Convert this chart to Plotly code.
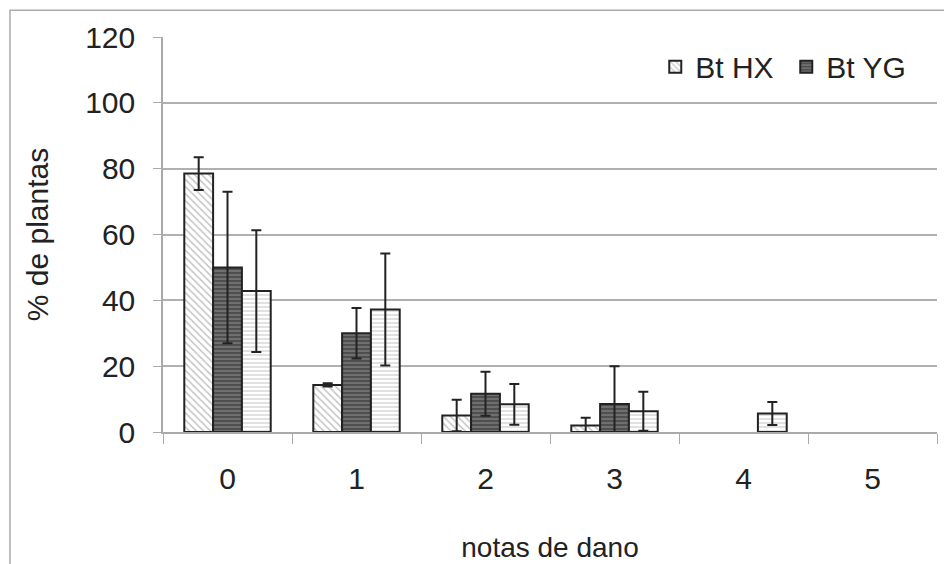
import plotly.graph_objects as go

categories = ["0", "1", "2", "3", "4", "5"]
hx_values = [78.5, 14.3, 5.0, 2.0, 0.0, 0.0]
hx_err = [5.0, 0.5, 4.8, 2.3, 0.0, 0.0]
yg_values = [50.0, 30.0, 11.6, 8.5, 0.0, 0.0]
yg_err = [23.0, 7.7, 6.7, 11.5, 0.0, 0.0]
vip_values = [42.8, 37.2, 8.4, 6.3, 5.6, 0.0]
vip_err = [18.5, 17.0, 6.2, 5.9, 3.5, 0.0]
series_names = ["Bt HX", "Bt YG", "Bt VIP"]

FONT = "Liberation Sans, Arial, sans-serif"
err_style = dict(type="data", visible=True, color="#222222", thickness=2, width=5)


def shown(values):
    # zero-height bars are not drawn in the original chart
    return [v if v > 0 else None for v in values]


fig = go.Figure()
fig.add_trace(go.Bar(
    x=categories, y=shown(hx_values), name=series_names[0],
    error_y=dict(array=hx_err, **err_style),
    marker=dict(color="white", line=dict(color="#222222", width=2),
                pattern=dict(shape="\\", fgcolor="#8a8a8a", bgcolor="white", size=5, solidity=0.3)),
))
fig.add_trace(go.Bar(
    x=categories, y=shown(yg_values), name=series_names[1],
    error_y=dict(array=yg_err, **err_style),
    marker=dict(color="#555555", line=dict(color="#222222", width=2),
                pattern=dict(shape="-", fgcolor="#bcbcbc", bgcolor="#4f4f4f", size=4, solidity=0.3)),
))
fig.add_trace(go.Bar(
    x=categories, y=shown(vip_values), name=series_names[2], showlegend=False,
    error_y=dict(array=vip_err, **err_style),
    marker=dict(color="white", line=dict(color="#222222", width=2),
                pattern=dict(shape="-", fgcolor="#a8a8a8", bgcolor="white", size=4, solidity=0.35)),
))

fig.update_layout(
    width=944, height=556,
    margin=dict(l=155, r=15, t=29, b=132),
    paper_bgcolor="white", plot_bgcolor="white",
    font=dict(family=FONT, size=30, color="#222222"),
    barmode="group", bargap=0.33, bargroupgap=0,
    showlegend=True,
    legend=dict(orientation="h", x=0.636, y=0.925, xanchor="left", yanchor="middle",
                font=dict(size=30), bgcolor="rgba(0,0,0,0)", itemwidth=30,
                entrywidth=86, entrywidthmode="pixels", tracegroupgap=0),
    xaxis=dict(
        automargin=False,
        showline=True, linecolor="#aaaaaa", linewidth=1.5,
        ticks="outside", tickson="boundaries", ticklen=10, tickcolor="#aaaaaa",
        tickfont=dict(size=30), ticklabelstandoff=19,
        title=dict(text="notas de dano", font=dict(size=28), standoff=44),
    ),
    yaxis=dict(
        automargin=False,
        range=[0, 120], dtick=20,
        showline=True, linecolor="#aaaaaa", linewidth=1.5,
        showgrid=True, gridcolor="#b0b0b0", gridwidth=1.5,
        ticks="outside", ticklen=8, tickcolor="#aaaaaa",
        tickfont=dict(size=30), ticklabelstandoff=12,
        title=dict(text="% de plantas", font=dict(size=30), standoff=28),
        zeroline=False,
    ),
    shapes=[
        dict(type="rect", xref="paper", yref="paper",
             x0=-0.1977, x1=1.1, y0=-0.5, y1=1.068,
             line=dict(color="#aaaaaa", width=1.5), layer="below"),
    ],
)

fig.write_html("out.html")
